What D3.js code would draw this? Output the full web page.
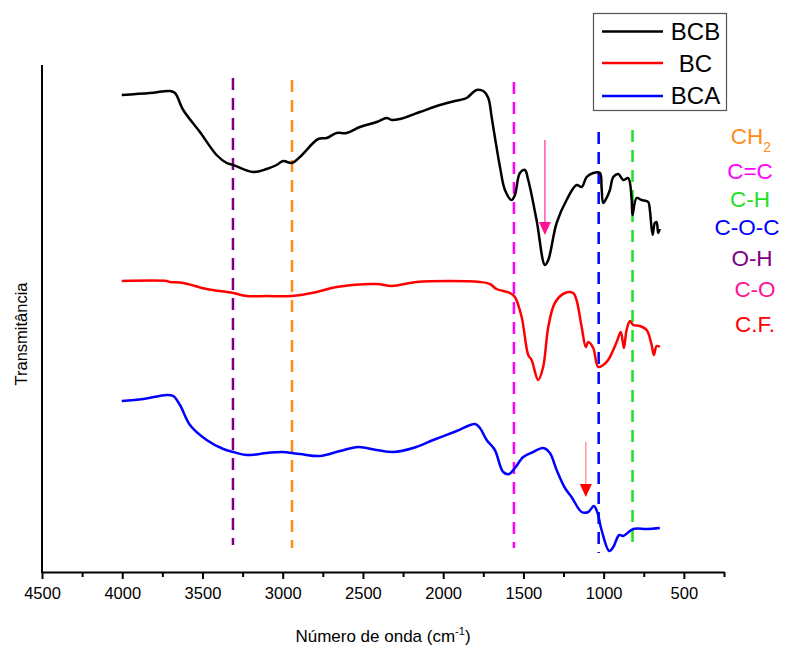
<!DOCTYPE html>
<html>
<head>
<meta charset="utf-8">
<script src="https://cdn.jsdelivr.net/npm/d3@7"></script>
<style>
body { margin: 0; background: #fff; }
text { font-family: "Liberation Sans", Arial, sans-serif; }
</style>
</head>
<body>
<script>
// espectros FTIR (transmitância em unidades arbitrárias, deslocados)
const bcbWn = [4003,3827,3702,3671,3620,3516,3412,3349,3308,3184,3100,3038,2997,2944,2893,2779,2726,2664,2602,2519,2415,2352,2321,2270,2145,2020,1927,1896,1854,1792,1750,1719,1698,1678,1646,1615,1574,1553,1522,1491,1470,1418,1366,1345,1293,1231,1169,1137,1106,1065,1023,1013,1003,982,961,940,909,878,847,826,820,795,764,722,712,695,681,670,660,650];
const bcbT  = [477,479,481,479,462,440,417,409,407,400,403,407,411,409,415,433,434,439,439,445,450,454,452,453,460,467,471,472,474,482,481,474,455,435,405,382,372,377,399,402,392,352,307,312,349,372,387,385,395,399,399,385,369,374,382,395,398,392,394,374,357,374,372,370,362,337,349,350,339,343];

const bcWn = [4003,3723,3702,3620,3474,3308,3225,3100,2944,2788,2664,2415,2321,2165,1958,1771,1709,1667,1584,1553,1511,1470,1449,1408,1377,1345,1304,1241,1190,1169,1137,1111,1096,1065,1034,1003,972,919,893,874,857,836,816,774,732,701,687,670,650];
const bcT  = [291,291,290,289,283,279,276,276,276,280,285,288,286,290,291,290,288,283,279,275,255,217,212,192,205,245,269,279,279,272,245,225,230,224,205,207,212,230,240,224,242,251,247,246,242,227,217,226,225];

const bcaWn = [4003,3869,3723,3682,3640,3578,3474,3370,3308,3225,3100,3007,2893,2768,2643,2529,2415,2311,2187,2062,1916,1802,1771,1729,1678,1626,1589,1553,1501,1439,1377,1335,1293,1241,1200,1137,1096,1061,1040,1013,965,940,903,878,816,732,650];
const bcaT  = [171,173,177,176,167,147,132,123,120,117,119,120,118,116,121,125,122,120,124,132,141,148,144,132,122,100,98,104,115,120,124,119,102,84,75,60,60,66,60,42,21,25,37,36,43,43,44];

const seriesNames = ["BCB", "BC", "BCA"];
const seriesColors = ["#000000", "#ff0000", "#0000ff"];

// bandas atribuídas (linhas tracejadas)
const bandLabels = ["O-H", "CH2", "C=C", "C-O-C", "C-H"];
const bandWn = [3310, 2942, 1559, 1031, 820];
const bandTop = [494, 492, 490, 440, 442];
const bandBottom = [27, 24, 24, 19, 22];
const bandColors = ["#800080", "#ff8c1a", "#ff00ff", "#0000ff", "#22e022"];

// setas
const arrowWn = [1366, 1111];
const arrowFrom = [432, 130];
const arrowTo = [337, 75];
const arrowColors = ["#ff1493", "#ff0000"];
const arrowLineColors = ["#ff3ea0", "#ff8a8a"];

// legenda lateral
const sideLabels = ["CH", "C=C", "C-H", "C-O-C", "O-H", "C-O", "C.F."];
const sideColors = ["#ff8c1a", "#ff00ff", "#22e022", "#0000ff", "#800080", "#ff1493", "#ff0000"];

const majorTicks = [4500,4000,3500,3000,2500,2000,1500,1000,500];
const minorTicks = [4250,3750,3250,2750,2250,1750,1250,750,250];

const W = 791, H = 648;
const svg = d3.select("body").append("svg").attr("width", W).attr("height", H);

const x = d3.scaleLinear().domain([4500, 250]).range([42, 724]);
const y = d3.scaleLinear().domain([0, 507]).range([572, 65]);

const line = d3.line()
  .x(d => x(d[0]))
  .y(d => y(d[1]))
  .curve(d3.curveCatmullRom.alpha(0.5));

// linhas tracejadas
bandWn.forEach((w, i) => {
  svg.append("line")
    .attr("x1", x(w)).attr("x2", x(w))
    .attr("y1", y(bandTop[i])).attr("y2", y(bandBottom[i]))
    .attr("stroke", bandColors[i])
    .attr("stroke-width", 2.5)
    .attr("stroke-dasharray", "12,8");
});

// espectros
const allSeries = [
  d3.zip(bcbWn, bcbT),
  d3.zip(bcWn, bcT),
  d3.zip(bcaWn, bcaT)
];
allSeries.forEach((s, i) => {
  svg.append("path")
    .datum(s)
    .attr("d", line)
    .attr("fill", "none")
    .attr("stroke", seriesColors[i])
    .attr("stroke-width", 2.5)
    .attr("stroke-linejoin", "round");
});

// setas
arrowWn.forEach((w, i) => {
  const ax = x(w), y0 = y(arrowFrom[i]), y1 = y(arrowTo[i]);
  svg.append("line")
    .attr("x1", ax).attr("x2", ax)
    .attr("y1", y0).attr("y2", y1 - 12)
    .attr("stroke", arrowLineColors[i])
    .attr("stroke-width", 1.3);
  svg.append("path")
    .attr("d", `M${ax - 6},${y1 - 13} L${ax + 6},${y1 - 13} L${ax},${y1} Z`)
    .attr("fill", arrowColors[i]);
});

// eixos
const xAxis = svg.append("g").attr("transform", "translate(0,572)");
xAxis.call(d3.axisBottom(x).tickValues(majorTicks).tickSize(7).tickSizeOuter(0).tickFormat(d3.format("d")));
xAxis.select(".domain").attr("stroke-width", 2);
xAxis.selectAll(".tick line").attr("stroke-width", 2);
xAxis.selectAll(".tick text")
  .attr("font-size", 16.5)
  .attr("font-family", "Liberation Sans, Arial, sans-serif")
  .attr("dy", "1.05em");
const xMinor = svg.append("g").attr("transform", "translate(0,572)");
xMinor.call(d3.axisBottom(x).tickValues(minorTicks).tickSize(5).tickFormat(""));
xMinor.select(".domain").remove();
xMinor.selectAll(".tick line").attr("stroke-width", 2);

svg.append("line")
  .attr("x1", 42).attr("x2", 42)
  .attr("y1", 65).attr("y2", 573)
  .attr("stroke", "#000").attr("stroke-width", 2);

// títulos dos eixos
const xt = svg.append("text")
  .attr("x", 383).attr("y", 642)
  .attr("text-anchor", "middle")
  .attr("font-size", 17);
xt.append("tspan").text("Número de onda (cm");
xt.append("tspan").attr("font-size", 11).attr("dy", -7).text("-1");
xt.append("tspan").attr("dy", 7).text(")");

svg.append("text")
  .attr("transform", "translate(27,334) rotate(-90)")
  .attr("text-anchor", "middle")
  .attr("font-size", 16.5)
  .text("Transmitância");

// legenda
const leg = svg.append("g");
leg.append("rect")
  .attr("x", 593.5).attr("y", 13.5)
  .attr("width", 133).attr("height", 97)
  .attr("fill", "#fff")
  .attr("stroke", "#555").attr("stroke-width", 1.2);
const legLineY = [31.5, 63, 96];
const legTextY = [40, 72, 104];
seriesNames.forEach((n, i) => {
  leg.append("line")
    .attr("x1", 602).attr("x2", 663)
    .attr("y1", legLineY[i]).attr("y2", legLineY[i])
    .attr("stroke", seriesColors[i]).attr("stroke-width", 2.5);
  leg.append("text")
    .attr("x", 695.5).attr("y", legTextY[i])
    .attr("text-anchor", "middle")
    .attr("font-size", 24)
    .text(n);
});

// rótulos das bandas
const sideX = [751, 750, 750, 747, 752, 755, 755];
const sideY = [143.5, 178.5, 206.5, 235, 266, 296.5, 331.5];
sideLabels.forEach((t, i) => {
  const tx = svg.append("text")
    .attr("x", sideX[i]).attr("y", sideY[i])
    .attr("text-anchor", "middle")
    .attr("font-size", 22.5)
    .attr("fill", sideColors[i]);
  tx.append("tspan").text(t);
  if (t === "CH") tx.append("tspan").attr("font-size", 14).attr("dy", 8).text("2");
});
</script>
</body>
</html>
